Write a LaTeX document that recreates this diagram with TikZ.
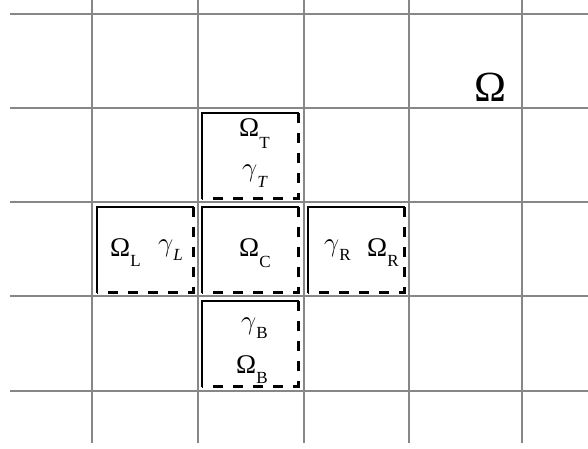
\RequirePackage{fix-cm}
\documentclass[tikz,border=0pt]{standalone}
\usepackage{fontspec}
\setmainfont{Liberation Serif}
\usepackage{tikz}

\newcommand\lowsub[2][15pt]{\raisebox{-#1}{\fontsize{17}{19}\selectfont #2}}
\newcommand\gam{$\gamma$}

\begin{document}
\begin{tikzpicture}[x=1pt,y=-1pt,font=\fontsize{27}{31}\selectfont,
  gridline/.style={draw=black!47,line width=2pt},
  solidedge/.style={draw=black,line width=2.8pt,line cap=rect},
  dashededge/.style={draw=black,line width=3pt,dash pattern=on 10pt off 10pt},
  lbl/.style={inner sep=0pt,anchor=base west}]
  \useasboundingbox (0,0) rectangle (588,449);

  % grid
  \foreach \y in {14,108,202,296,391}
    \draw[gridline] (10,\y) -- (588,\y);
  \foreach \x in {92,198,304,409,522}
    \draw[gridline] (\x,0) -- (\x,443);

  % subdomains: solid left/top, dashed right/bottom
  \foreach \n/\l/\t in {T/202/113, L/97/207, C/202/207, R/308/207, B/202/301} {
    \coordinate (nw\n) at (\l,\t);
    \coordinate (ne\n) at (\l+96,\t);
    \coordinate (se\n) at (\l+96,\t+85);
    \coordinate (sw\n) at (\l,\t+85);
    \draw[solidedge] (sw\n) -- (nw\n) -- (ne\n);
    \draw[dashededge] (ne\n) -- (se\n) -- (sw\n);
  }

  \node[lbl] (omT) at (239,137) {Ω\lowsub[12pt]{T}};
  \node[lbl] (gaT) at (242,176) {\gam\lowsub[11pt]{\textit{T}}};
  \node[lbl] (omL) at (110,256) {Ω\lowsub[10pt]{L}};
  \node[lbl] (gaL) at (158,251) {\gam\lowsub[9pt]{\textit{L}}};
  \node[lbl] (omC) at (239,256) {Ω\lowsub[11pt]{C}};
  \node[lbl] (gaR) at (324,251) {\gam\lowsub[9pt]{R}};
  \node[lbl] (omR) at (367,256) {Ω\lowsub[10pt]{R}};
  \node[lbl] (gaB) at (241,329) {\gam\lowsub[9pt]{B}};
  \node[lbl] (omB) at (236,373) {Ω\lowsub[10pt]{B}};
  \node[lbl,font=\fontsize{43}{48}\selectfont] (omega) at (474,102) {Ω};
\end{tikzpicture}
\end{document}
